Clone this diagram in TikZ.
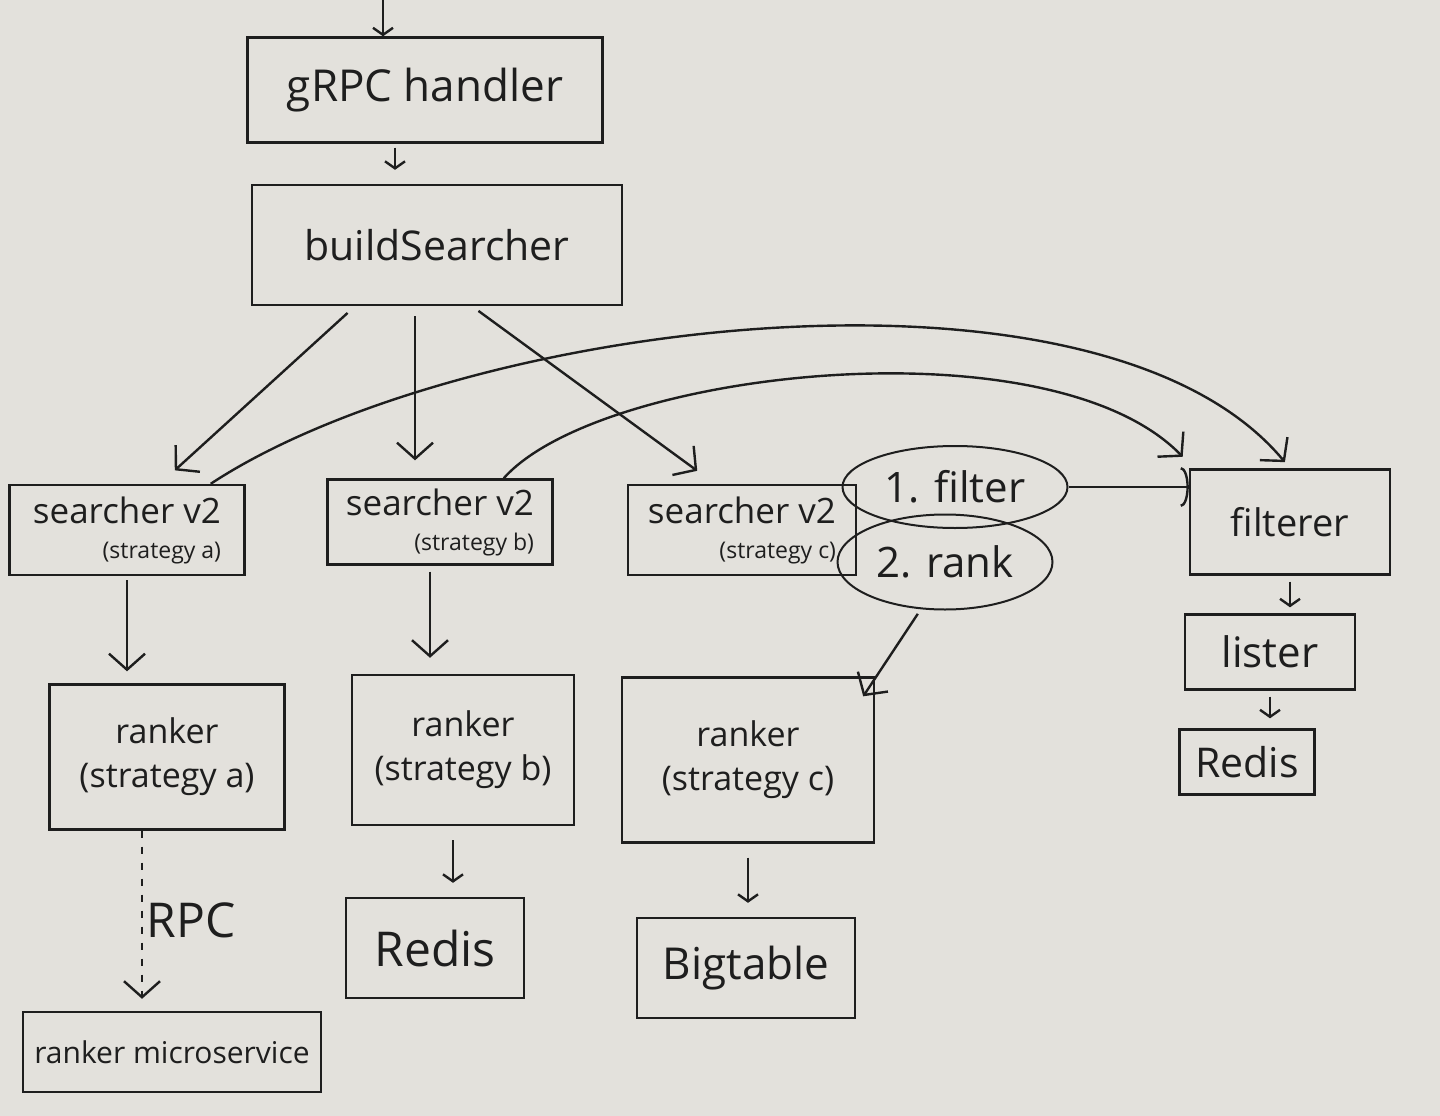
\documentclass[tikz,border=0pt]{standalone}
\usepackage{fontspec}
\setmainfont{Open Sans}
\usetikzlibrary{arrows.meta,shapes.geometric,positioning}
\definecolor{board}{RGB}{227,225,220}
\definecolor{marker}{RGB}{30,30,30}
\newcommand\sizept[1]{\fontsize{#1}{#1}\selectfont}
\tikzset{
  box/.style={draw=marker, line width=2.4pt, text=marker, align=center, inner sep=4pt},
  bubble/.style={ellipse, draw=marker, line width=2pt, text=marker, inner sep=0pt},
  flow/.style={draw=marker, line width=2.4pt, -{Straight Barb[length=16pt,width=36pt]}},
  hop/.style={draw=marker, line width=2.4pt, -{Straight Barb[length=7pt,width=20pt]}},
  rpc/.style={flow, dash pattern=on 7pt off 9pt},
}

\begin{document}
\begin{tikzpicture}[x=1pt,y=-1pt]
  \fill [board] (0,0) rectangle (1440,1116);
  \useasboundingbox (0,0) rectangle (1440,1116);

  \coordinate (entry) at (383,0);
  \node [box, font=\sizept{44}, minimum width=355pt, minimum height=105pt] (grpc) at (425,90) {gRPC handler};
  \node [box, font=\sizept{41}, minimum width=370pt, minimum height=120pt] (build) at (437,245) {buildSearcher};

  \node [box, font=\sizept{35}, align=right, minimum width=235pt, minimum height=90pt] (sa) at (127,530) {searcher v2\\{\sizept{23}(strategy a)}};
  \node [box, font=\sizept{35}, align=right, minimum width=225pt, minimum height=85pt] (sb) at (440,522) {searcher v2\\{\sizept{23}(strategy b)}};
  \node [box, font=\sizept{35}, align=right, minimum width=228pt, minimum height=90pt] (sc) at (742,530) {searcher v2\\{\sizept{23}(strategy c)}};

  \node [bubble, font=\sizept{42}, minimum width=225pt, minimum height=82pt] (f1) at (955,487) {1. filter};
  \node [bubble, font=\sizept{42}, minimum width=215pt, minimum height=95pt] (r2) at (945,562) {2. rank};

  \node [box, font=\sizept{38}, minimum width=200pt, minimum height=105pt] (fil) at (1290,522) {filterer};
  \node [box, font=\sizept{42}, minimum width=170pt, minimum height=75pt] (lis) at (1270,652) {lister};
  \node [box, font=\sizept{41}, minimum width=135pt, minimum height=65pt] (rds2) at (1247,762) {Redis};

  \node [box, font=\sizept{34}, minimum width=235pt, minimum height=145pt] (ra) at (167,757) {ranker\\[10pt](strategy a)};
  \node [box, font=\sizept{34}, minimum width=222pt, minimum height=150pt] (rb) at (463,750) {ranker\\[10pt](strategy b)};
  \node [box, font=\sizept{34}, minimum width=252pt, minimum height=165pt] (rc) at (748,760) {ranker\\[10pt](strategy c)};

  \node [box, font=\sizept{30}, minimum width=298pt, minimum height=80pt] (rms) at (172,1052) {ranker microservice};
  \node [box, font=\sizept{48}, minimum width=178pt, minimum height=100pt] (rds) at (435,948) {Redis};
  \node [box, font=\sizept{44}, minimum width=218pt, minimum height=100pt] (bt) at (746,968) {Bigtable};

  \draw [hop] (entry) -- (entry |- grpc.north);
  \draw [hop, shorten <=4pt, shorten >=14pt] ([xshift=-30pt]grpc.south) -- ([xshift=-30pt]grpc.south |- build.north);

  \draw [flow, shorten <=10pt, shorten >=20pt] ([xshift=-82pt]build.south) -- ([xshift=33pt]sa.north);
  \draw [flow, shorten <=10pt, shorten >=18pt] ([xshift=-22pt]build.south) -- ([xshift=-22pt]build.south |- sb.north);
  \draw [flow, shorten <=8pt, shorten >=22pt] ([xshift=35pt]build.south) -- ([xshift=-27pt]sc.north);

  \draw [flow, shorten >=8pt] ([xshift=-35pt]sa.north east) .. controls (460,320) and (1100,240) .. (fil.north);
  \draw [flow, shorten >=16pt] ([xshift=-50pt]sb.north east) .. controls (600,370) and (1050,320) .. ([xshift=5pt]fil.north west);
  \draw [draw=marker, line width=2.4pt, -{Arc Barb[length=8pt,width=40pt]}] (f1.east) -- (f1.east -| fil.west);
  \draw [flow, shorten <=4pt] ([xshift=-25pt]r2.south) -- ([xshift=-12pt,yshift=-20pt]rc.north east);

  \draw [flow, shorten <=4pt, shorten >=12pt] (sa.south) -- (sa.south |- ra.north);
  \draw [flow, shorten <=6pt, shorten >=16pt] ([xshift=-10pt]sb.south) -- ([xshift=-10pt]sb.south |- rb.north);
  \draw [rpc, shorten >=12pt] ([xshift=-25pt]ra.south) -- node [right, font=\sizept{48}, text=marker] (rpclabel) {RPC} ([xshift=-25pt]ra.south |- rms.north);

  \draw [hop, shorten <=14pt, shorten >=14pt] ([xshift=-10pt]rb.south) -- ([xshift=-10pt]rb.south |- rds.north);
  \draw [hop, shorten <=14pt, shorten >=14pt] (rc.south) -- (rc.south |- bt.north);
  \draw [hop, shorten <=6pt, shorten >=6pt] (fil.south) -- (fil.south |- lis.north);
  \draw [hop, shorten <=6pt, shorten >=10pt] (lis.south) -- (lis.south |- rds2.north);
\end{tikzpicture}
\end{document}
